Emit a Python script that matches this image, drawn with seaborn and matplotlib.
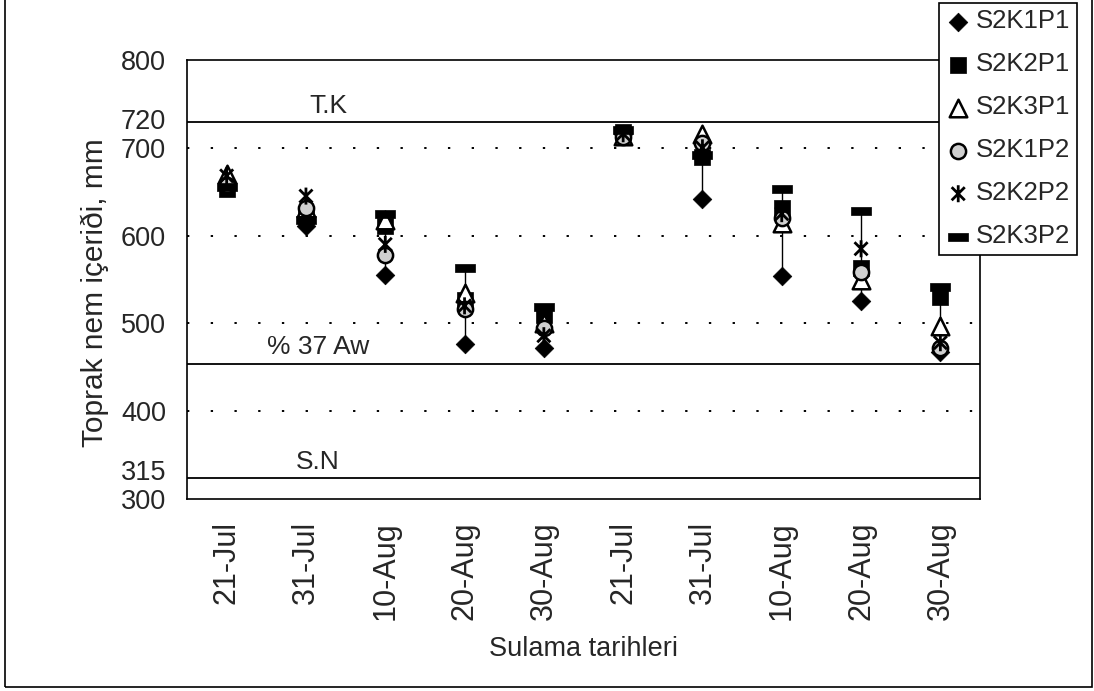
import numpy as np
import pandas as pd
import matplotlib
matplotlib.use("Agg")
import matplotlib.pyplot as plt
from matplotlib.path import Path
from matplotlib.patches import Rectangle
import seaborn as sns

# irrigation dates (two seasons) and soil moisture readings, mm
dates = ["21-Jul", "31-Jul", "10-Aug", "20-Aug", "30-Aug",
         "21-Jul", "31-Jul", "10-Aug", "20-Aug", "30-Aug"]
s2k1p1 = [660, 611, 555, 476, 472, 716, 642, 554, 526, 467]
s2k2p1 = [653, 622, 611, 527, 510, 718, 690, 632, 563, 530]
s2k3p1 = [670, 632, 618, 535, 500, 714, 716, 614, 549, 497]
s2k1p2 = [658, 631, 578, 516, 495, 712, 706, 620, 558, 472]
s2k2p2 = [668, 645, 590, 520, 486, 716, 700, 625, 585, 478]
s2k3p2 = [655, 618, 625, 563, 519, 720, 692, 653, 628, 541]

series_names = ["S2K1P1", "S2K2P1", "S2K3P1", "S2K1P2", "S2K2P2", "S2K3P2"]
series_values = [s2k1p1, s2k2p1, s2k3p1, s2k1p2, s2k2p2, s2k3p2]

# reference levels (lines sit where they are drawn in the original figure)
tk_line = 729
aw_line = 454
sn_line = 324
level_labels = ["315", "720"]
level_label_pos = [333, 733]

pos = np.arange(len(dates))
df = pd.DataFrame({"pos": np.tile(pos, len(series_names)),
                   "series": np.repeat(series_names, len(dates)),
                   "value": np.concatenate(series_values)})

sns.set_style("white")
plt.rcParams["font.family"] = ["Liberation Sans", "DejaVu Sans"]

fig = plt.figure(figsize=(10.94, 6.91), dpi=100)
ax = fig.add_axes([187 / 1094, 1 - 499 / 691, 793 / 1094, 439 / 691])

# high-low lines
rng = df.groupby("pos")["value"].agg(["min", "max"])
ax.vlines(rng.index, rng["min"], rng["max"], color="black", lw=1, zorder=2)

star = Path([(-1, -1), (1, 1), (-1, 1), (1, -1), (0, -1.3), (0, 1.3)],
            [Path.MOVETO, Path.LINETO, Path.MOVETO, Path.LINETO, Path.MOVETO, Path.LINETO])
dash = Path([(-1, -0.4), (1, -0.4), (1, 0.4), (-1, 0.4), (-1, -0.4)],
            [Path.MOVETO, Path.LINETO, Path.LINETO, Path.LINETO, Path.CLOSEPOLY])

styles = {
    "S2K1P1": dict(marker="D", s=90, facecolor="black", edgecolor="black", linewidth=0.5),
    "S2K2P1": dict(marker="s", s=140, facecolor="black", edgecolor="black", linewidth=0.5),
    "S2K3P1": dict(marker="^", s=160, facecolor="white", edgecolor="black", linewidth=1.8),
    "S2K1P2": dict(marker="o", s=120, facecolor="#d0d0d0", edgecolor="black", linewidth=1.8),
    "S2K2P2": dict(marker=star, s=150, facecolor="none", edgecolor="black", linewidth=2.0),
    "S2K3P2": dict(marker=dash, s=200, facecolor="black", edgecolor="black", linewidth=0.5),
}

for name in series_names:
    sub = df[df["series"] == name]
    sns.scatterplot(data=sub, x="pos", y="value", ax=ax, label=name, zorder=3, **styles[name])

# reference lines and dotted grid
for lvl in [tk_line, aw_line, sn_line]:
    ax.axhline(lvl, color="black", lw=1.3, zorder=1)
for g in [400, 500, 600, 700]:
    ax.axhline(g, color="black", lw=1.4, ls=(0, (1.2, 11)), zorder=1)

ax.text(0.178, tk_line + 5, "T.K", transform=ax.get_yaxis_transform(),
        ha="center", va="bottom", fontsize=19)
ax.text(0.165, aw_line + 5, "% 37 Aw", transform=ax.get_yaxis_transform(),
        ha="center", va="bottom", fontsize=19)
ax.text(0.165, sn_line + 5, "S.N", transform=ax.get_yaxis_transform(),
        ha="center", va="bottom", fontsize=19)

ax.set_ylim(300, 800)
ax.set_xlim(-0.5, len(dates) - 0.5)

ax.set_yticks([300, 400, 500, 600, 700, 800])
ax.set_yticks(level_label_pos, labels=level_labels, minor=True)
ax.tick_params(axis="y", which="major", direction="inout", length=12, width=1, pad=9, labelsize=19.5)
ax.tick_params(axis="y", which="minor", length=0, pad=15, labelsize=19.5)

ax.set_xticks(np.arange(-0.5, len(dates), 1.0), labels=[""] * (len(dates) + 1))
ax.set_xticks(pos, labels=dates, minor=True)
ax.tick_params(axis="x", which="major", direction="inout", length=16, width=1)
ax.tick_params(axis="x", which="minor", length=0, pad=16, labelsize=22, labelrotation=90)

for sp in ax.spines.values():
    sp.set_color("black")
    sp.set_linewidth(1.2)

ax.set_xlabel("Sulama tarihleri", fontsize=19.5)
ax.xaxis.set_label_coords(0.5, -0.313)
ax.set_ylabel("Toprak nem içeriði, mm", fontsize=21.5)
ax.yaxis.set_label_coords(-0.098, 0.47)

ax.get_legend().remove()
handles, labels = ax.get_legend_handles_labels()
leg = fig.legend(handles, labels, loc="upper right",
                 bbox_to_anchor=(1077 / 1094, 1 - 3 / 691),
                 frameon=True, fancybox=False, framealpha=1, edgecolor="black",
                 fontsize=18.5, handletextpad=0.2, handlelength=1.0,
                 labelspacing=0.74, borderpad=0.25, borderaxespad=0)
leg.get_frame().set_linewidth(1.2)

fig.patches.append(Rectangle((0.005, 0.006), 0.993, 1.2, transform=fig.transFigure,
                             fill=False, edgecolor="black", lw=1.2))

fig.savefig("out.png", dpi=100)
